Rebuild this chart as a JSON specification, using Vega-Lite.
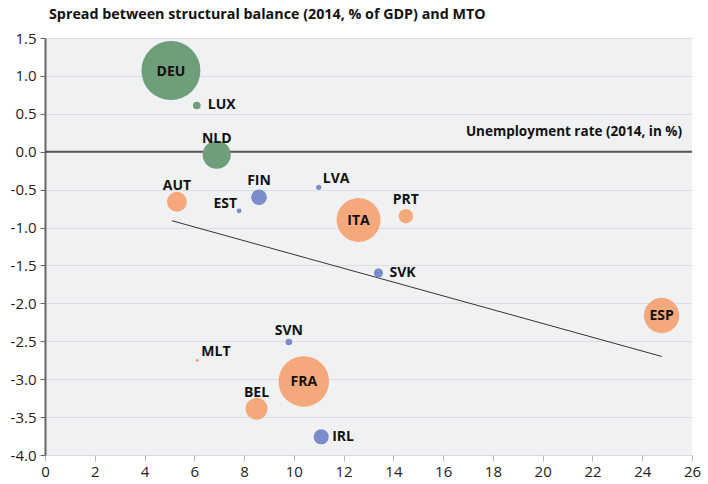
{
  "$schema": "https://vega.github.io/schema/vega-lite/v6.json",
  "autosize": "none",
  "width": 647,
  "height": 417,
  "padding": {"left": 45, "top": 38, "right": 16, "bottom": 29},
  "background": "white",
  "title": {
    "text": "Spread between structural balance (2014, % of GDP) and MTO",
    "anchor": "start",
    "frame": "group",
    "dx": 4,
    "offset": 9,
    "font": "Open Sans",
    "fontSize": 14.3,
    "fontWeight": "bold",
    "color": "#111"
  },
  "config": {
    "view": {"fill": "#f0f1f3", "stroke": null},
    "font": "Open Sans",
    "locale": {"number": {"decimal": ".", "thousands": ",", "grouping": [3], "currency": ["", ""], "minus": "-"}},
    "axis": {"labelOverlap": false}
  },
  "datasets": {
    "countries": [
      {"country": "DEU", "unemp": 5.06, "spread": 1.07, "gdp": 2900, "group": "g", "lab": "c"},
      {"country": "LUX", "unemp": 6.1, "spread": 0.61, "gdp": 49, "group": "g", "lab": "r"},
      {"country": "NLD", "unemp": 6.9, "spread": -0.04, "gdp": 660, "group": "g", "lab": "t"},
      {"country": "AUT", "unemp": 5.3, "spread": -0.66, "gdp": 330, "group": "o", "lab": "t"},
      {"country": "FIN", "unemp": 8.6, "spread": -0.6, "gdp": 205, "group": "b", "lab": "t"},
      {"country": "EST", "unemp": 7.8, "spread": -0.78, "gdp": 19, "group": "b", "lab": "ul"},
      {"country": "LVA", "unemp": 11.0, "spread": -0.47, "gdp": 24, "group": "b", "lab": "ur"},
      {"country": "ITA", "unemp": 12.6, "spread": -0.9, "gdp": 1610, "group": "o", "lab": "c"},
      {"country": "PRT", "unemp": 14.5, "spread": -0.85, "gdp": 173, "group": "o", "lab": "t"},
      {"country": "SVK", "unemp": 13.4, "spread": -1.6, "gdp": 70, "group": "b", "lab": "r"},
      {"country": "ESP", "unemp": 24.78, "spread": -2.16, "gdp": 1040, "group": "o", "lab": "c"},
      {"country": "SVN", "unemp": 9.8, "spread": -2.51, "gdp": 37, "group": "b", "lab": "ts"},
      {"country": "MLT", "unemp": 6.12, "spread": -2.75, "gdp": 8, "group": "o", "lab": "ur"},
      {"country": "FRA", "unemp": 10.4, "spread": -3.03, "gdp": 2130, "group": "o", "lab": "c"},
      {"country": "BEL", "unemp": 8.5, "spread": -3.39, "gdp": 400, "group": "o", "lab": "t"},
      {"country": "IRL", "unemp": 11.1, "spread": -3.76, "gdp": 190, "group": "b", "lab": "r"}
    ],
    "trend": [
      {"unemp": 5.1, "spread": -0.91},
      {"unemp": 24.78, "spread": -2.7}
    ]
  },
  "layer": [
    {
      "data": {"values": [{"zero": 0}]},
      "mark": {"type": "rule", "color": "#555", "strokeWidth": 2},
      "encoding": {
        "y": {
          "field": "zero",
          "type": "quantitative",
          "scale": {"domain": [-4, 1.5], "nice": false, "zero": false},
          "axis": {
            "values": [-4, -3.5, -3, -2.5, -2, -1.5, -1, -0.5, 0, 0.5, 1, 1.5],
            "tickCount": 30,
            "format": ".1f",
            "labelOverlap": false,
            "title": null,
            "grid": true,
            "gridColor": "#dcdde0",
            "gridWidth": 1,
            "domain": true,
            "domainColor": "#666",
            "domainWidth": 2,
            "tickColor": "#666",
            "tickSize": 5,
            "labelFont": "Open Sans",
            "labelFontSize": 15,
            "labelColor": "#222",
            "labelPadding": 4
          }
        }
      }
    },
    {
      "data": {"name": "trend"},
      "mark": {"type": "line", "color": "#333", "strokeWidth": 1},
      "encoding": {
        "x": {
          "field": "unemp",
          "type": "quantitative",
          "scale": {"domain": [0, 26], "nice": false, "zero": false},
          "axis": {
            "values": [0, 2, 4, 6, 8, 10, 12, 14, 16, 18, 20, 22, 24, 26],
            "tickCount": 30,
            "title": null,
            "grid": false,
            "domain": false,
            "labelOverlap": false,
            "tickColor": "#b8b8b8",
            "tickSize": 6,
            "labelFont": "Open Sans",
            "labelFontSize": 15,
            "labelColor": "#222",
            "labelPadding": 3,
            "labelFlush": false
          }
        },
        "y": {"field": "spread", "type": "quantitative"}
      }
    },
    {
      "data": {"name": "countries"},
      "mark": {"type": "circle", "opacity": 1},
      "encoding": {
        "x": {"field": "unemp", "type": "quantitative"},
        "y": {"field": "spread", "type": "quantitative"},
        "size": {
          "field": "gdp",
          "type": "quantitative",
          "scale": {"domain": [0, 3000], "range": [0, 3600], "zero": true},
          "legend": null
        },
        "color": {
          "field": "group",
          "type": "nominal",
          "scale": {"domain": ["g", "o", "b"], "range": ["#6f9e7b", "#f4a87b", "#7b8cca"]},
          "legend": null
        }
      }
    },
    {
      "data": {"name": "countries"},
      "transform": [{"filter": "datum.lab === 'c'"}],
      "mark": {"type": "text", "font": "Open Sans", "fontSize": 14, "fontWeight": "bold", "color": "#111", "align": "center", "baseline": "middle", "dy": 1},
      "encoding": {
        "x": {"field": "unemp", "type": "quantitative"},
        "y": {"field": "spread", "type": "quantitative"},
        "text": {"field": "country"}
      }
    },
    {
      "data": {"name": "countries"},
      "transform": [{"filter": "datum.lab === 't'"}],
      "mark": {"type": "text", "font": "Open Sans", "fontSize": 14, "fontWeight": "bold", "color": "#111", "align": "center", "baseline": "middle", "dy": -16},
      "encoding": {
        "x": {"field": "unemp", "type": "quantitative"},
        "y": {"field": "spread", "type": "quantitative"},
        "text": {"field": "country"}
      }
    },
    {
      "data": {"name": "countries"},
      "transform": [{"filter": "datum.lab === 'ts'"}],
      "mark": {"type": "text", "font": "Open Sans", "fontSize": 14, "fontWeight": "bold", "color": "#111", "align": "center", "baseline": "middle", "dy": -11},
      "encoding": {
        "x": {"field": "unemp", "type": "quantitative"},
        "y": {"field": "spread", "type": "quantitative"},
        "text": {"field": "country"}
      }
    },
    {
      "data": {"name": "countries"},
      "transform": [{"filter": "datum.lab === 'r'"}],
      "mark": {"type": "text", "font": "Open Sans", "fontSize": 14, "fontWeight": "bold", "color": "#111", "align": "left", "baseline": "middle", "dx": 11, "dy": 0},
      "encoding": {
        "x": {"field": "unemp", "type": "quantitative"},
        "y": {"field": "spread", "type": "quantitative"},
        "text": {"field": "country"}
      }
    },
    {
      "data": {"name": "countries"},
      "transform": [{"filter": "datum.lab === 'ur'"}],
      "mark": {"type": "text", "font": "Open Sans", "fontSize": 14, "fontWeight": "bold", "color": "#111", "align": "left", "baseline": "middle", "dx": 4, "dy": -8},
      "encoding": {
        "x": {"field": "unemp", "type": "quantitative"},
        "y": {"field": "spread", "type": "quantitative"},
        "text": {"field": "country"}
      }
    },
    {
      "data": {"name": "countries"},
      "transform": [{"filter": "datum.lab === 'ul'"}],
      "mark": {"type": "text", "font": "Open Sans", "fontSize": 14, "fontWeight": "bold", "color": "#111", "align": "right", "baseline": "middle", "dx": -2, "dy": -7},
      "encoding": {
        "x": {"field": "unemp", "type": "quantitative"},
        "y": {"field": "spread", "type": "quantitative"},
        "text": {"field": "country"}
      }
    },
    {
      "data": {"values": [{"unemp": 25.6, "spread": 0.26, "label": "Unemployment rate (2014, in %)"}]},
      "mark": {"type": "text", "font": "Open Sans", "fontSize": 13.5, "fontWeight": "bold", "color": "#111", "align": "right", "baseline": "middle"},
      "encoding": {
        "x": {"field": "unemp", "type": "quantitative"},
        "y": {"field": "spread", "type": "quantitative"},
        "text": {"field": "label"}
      }
    }
  ]
}
